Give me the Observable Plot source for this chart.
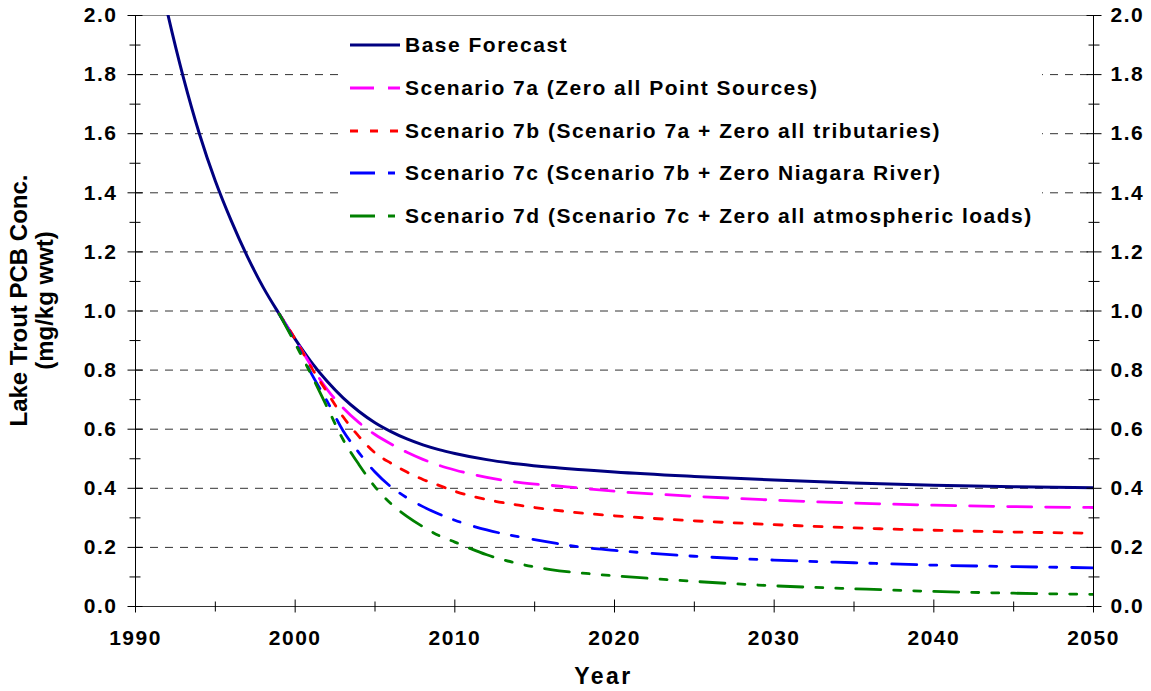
<!DOCTYPE html>
<html>
<head>
<meta charset="utf-8">
<script src="https://cdn.jsdelivr.net/npm/d3@7"></script>
<script src="https://cdn.jsdelivr.net/npm/@observablehq/plot@0.6"></script>
<style>
  html, body { margin: 0; padding: 0; background: #fff; }
  #wrap { position: relative; width: 1151px; height: 691px; }
  svg text { font-family: "Liberation Sans", Arial, sans-serif; }
  g[aria-label="y-axis tick label"] text, g[aria-label="x-axis tick label"] text { letter-spacing: 1.5px; }
  #legend { position: absolute; left: 342px; top: 25px; width: 700px; height: 212px; background: #fff;
            font-family: "Liberation Sans", Arial, sans-serif; font-weight: bold; font-size: 21px; letter-spacing: 1.5px; color: #000; }
  .row { position: absolute; left: 0; height: 30px; display: flex; align-items: center; white-space: nowrap; }
  .row svg { margin-left: 8px; margin-right: 5px; }
</style>
</head>
<body>
<div id="wrap"></div>
<script>
// ---- Data ----
const baseYears = [1991,1992,1993,1994,1995,1996,1997,1998,1999,2000,2001,2002,2003,2004,2005,2006,2007,2008,2009,2010,2012,2014,2016,2018,2020,2025,2030,2035,2040,2045,2050];
const baseForecast = [2.26,2.01,1.79,1.60,1.44,1.305,1.185,1.08,0.99,0.905,0.828,0.762,0.706,0.66,0.622,0.592,0.567,0.547,0.531,0.518,0.497,0.482,0.471,0.463,0.455,0.44,0.428,0.418,0.41,0.405,0.402];

const scenarioYears = [1999,2000,2001,2002,2003,2004,2005,2006,2007,2008,2009,2010,2012,2014,2016,2018,2020,2025,2030,2035,2040,2045,2050];
const scenario7a = [0.99,0.905,0.815,0.735,0.672,0.622,0.582,0.55,0.522,0.498,0.478,0.462,0.437,0.42,0.41,0.40,0.39,0.373,0.36,0.35,0.343,0.338,0.335];
const scenario7b = [0.99,0.905,0.81,0.725,0.642,0.575,0.52,0.485,0.455,0.43,0.41,0.39,0.362,0.343,0.328,0.316,0.307,0.29,0.277,0.266,0.258,0.252,0.248];
const scenario7c = [0.99,0.895,0.79,0.695,0.595,0.52,0.455,0.405,0.368,0.338,0.313,0.292,0.259,0.236,0.217,0.20,0.19,0.17,0.157,0.148,0.14,0.135,0.131];
const scenario7d = [0.99,0.89,0.785,0.675,0.565,0.48,0.405,0.348,0.305,0.27,0.24,0.218,0.175,0.145,0.125,0.113,0.104,0.085,0.07,0.06,0.051,0.045,0.041];

const seriesNames = [
  "Base Forecast",
  "Scenario 7a (Zero all Point Sources)",
  "Scenario 7b (Scenario 7a + Zero all tributaries)",
  "Scenario 7c (Scenario 7b + Zero Niagara River)",
  "Scenario 7d (Scenario 7c + Zero all atmospheric loads)"
];
const seriesColors = ["#000080", "#ff00ff", "#ff0000", "#0000ff", "#008000"];
const seriesDashes = [null, "24,14", "8,12", "25,13,7,15", "25,13,7,13,7,13"];

const yMajorTicks = [0,0.2,0.4,0.6,0.8,1.0,1.2,1.4,1.6,1.8,2.0];
const yMinorTicks = [0.1,0.3,0.5,0.7,0.9,1.1,1.3,1.5,1.7,1.9];
const yGridLines = [0.2,0.4,0.6,0.8,1.0,1.2,1.4,1.6,1.8];
const xMajorTicks = [1990,2000,2010,2020,2030,2040,2050];
const xMinorTicks = [1995,2005,2015,2025,2035,2045];
const yTitle = "Lake Trout PCB Conc.\n(mg/kg wwt)";
const xTitle = "Year";

// ---- Build tables ----
const seriesTables = [
  baseYears.map((yr, i) => ({year: yr, value: baseForecast[i]})),
  scenarioYears.map((yr, i) => ({year: yr, value: scenario7a[i]})),
  scenarioYears.map((yr, i) => ({year: yr, value: scenario7b[i]})),
  scenarioYears.map((yr, i) => ({year: yr, value: scenario7c[i]})),
  scenarioYears.map((yr, i) => ({year: yr, value: scenario7d[i]}))
];

const fmt = d3.format(".1f");

const chart = Plot.plot({
  width: 1151,
  height: 691,
  marginLeft: 135,
  marginRight: 58,
  marginTop: 15,
  marginBottom: 85,
  x: {domain: [1990, 2050]},
  y: {domain: [0, 2]},
  style: {fontFamily: "Liberation Sans, Arial, sans-serif", fontWeight: "bold", fontSize: "21px", color: "#000", background: "#fff", overflow: "visible"},
  marks: [
    Plot.gridY(yGridLines, {stroke: "#333", strokeOpacity: 1, strokeWidth: 1, strokeDasharray: "8,7"}),
    Plot.ruleY([2], {stroke: "#888", strokeWidth: 1}),
    Plot.ruleY([0], {stroke: "#333", strokeWidth: 1.2}),
    Plot.ruleX([1990, 2050], {stroke: "#000", strokeWidth: 1}),
    ...seriesTables.map((t, i) => Plot.line(t, {
      x: "year", y: "value", stroke: seriesColors[i], strokeWidth: i === 0 ? 3 : 2.8,
      strokeDasharray: seriesDashes[i], curve: "monotone-x", clip: true
    })),
    // y ticks (crossing the axis) left
    Plot.axisY(yMajorTicks, {anchor: "left", tickSize: 15, dx: 7.5, tickFormat: () => "", label: null, stroke: "#000"}),
    Plot.axisY(yMinorTicks, {anchor: "left", tickSize: 11, dx: 5.5, tickFormat: () => "", label: null, stroke: "#000"}),
    Plot.axisY(yMajorTicks, {anchor: "left", tickSize: 0, tickPadding: 18, tickFormat: fmt, label: null, fontSize: 21}),
    // right
    Plot.axisY(yMajorTicks, {anchor: "right", tickSize: 15, dx: -7.5, tickFormat: () => "", label: null, stroke: "#000"}),
    Plot.axisY(yMinorTicks, {anchor: "right", tickSize: 11, dx: -5.5, tickFormat: () => "", label: null, stroke: "#000"}),
    Plot.axisY(yMajorTicks, {anchor: "right", tickSize: 0, tickPadding: 17, tickFormat: fmt, label: null, fontSize: 21}),
    // x ticks
    Plot.axisX(xMajorTicks, {anchor: "bottom", tickSize: 13, dy: -6.5, tickFormat: () => "", label: null, stroke: "#000"}),
    Plot.axisX(xMinorTicks, {anchor: "bottom", tickSize: 10, dy: -4.5, tickFormat: () => "", label: null, stroke: "#000"}),
    Plot.axisX(xMajorTicks, {anchor: "bottom", tickSize: 0, tickPadding: 24, tickFormat: d => String(d), label: null, fontSize: 21}),
    // titles
    Plot.text([xTitle], {frameAnchor: "bottom", dy: 70, dx: -11, text: d => d, fontSize: 23, fontWeight: "bold", lineAnchor: "middle", fill: "#000"}),
    Plot.text([yTitle], {frameAnchor: "left", dx: -104, dy: -10.5, text: d => d, rotate: -90, fontSize: 24, fontWeight: "bold", textAnchor: "middle", lineAnchor: "middle", lineHeight: 1.1, fill: "#000"})
  ]
});

// letter-spaced x-axis title, as in the reference
d3.select(chart).selectAll("text").filter(function () { return this.textContent === xTitle; })
  .style("letter-spacing", "2.5px");

const wrap = document.getElementById("wrap");
wrap.appendChild(chart);

// ---- Legend (HTML overlay inside the plot area) ----
const legend = document.createElement("div");
legend.id = "legend";
const rowCenters = [20, 63, 106, 148, 191];
seriesNames.forEach((name, i) => {
  const row = document.createElement("div");
  row.className = "row";
  row.style.top = (rowCenters[i] - 15) + "px";
  const ns = "http://www.w3.org/2000/svg";
  const s = document.createElementNS(ns, "svg");
  s.setAttribute("width", 50);
  s.setAttribute("height", 10);
  const l = document.createElementNS(ns, "line");
  l.setAttribute("x1", 0); l.setAttribute("x2", 50);
  l.setAttribute("y1", 5); l.setAttribute("y2", 5);
  l.setAttribute("stroke", seriesColors[i]);
  l.setAttribute("stroke-width", 3);
  if (seriesDashes[i]) l.setAttribute("stroke-dasharray", seriesDashes[i]);
  s.appendChild(l);
  row.appendChild(s);
  const t = document.createElement("span");
  t.textContent = name;
  row.appendChild(t);
  legend.appendChild(row);
});
wrap.appendChild(legend);
</script>
</body>
</html>
